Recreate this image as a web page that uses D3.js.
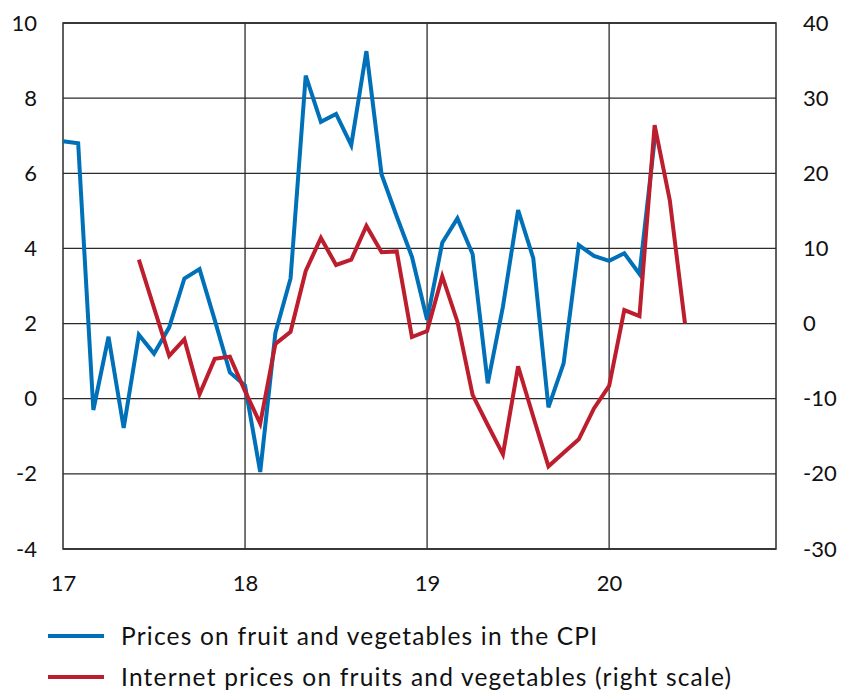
<!DOCTYPE html>
<html>
<head>
<meta charset="utf-8">
<script src="https://cdn.jsdelivr.net/npm/d3@7"></script>
<style>
  html, body { margin: 0; padding: 0; background: #fff; }
  svg { display: block; font-family: Lato, "Open Sans", sans-serif; }
</style>
</head>
<body>
<div id="chart"></div>
<script>
// Monthly series, first point given by its start month
const cpiStart = "2017-01";
const cpiValues = [6.85, 6.8, -0.3, 1.65, -0.78, 1.7, 1.2, 1.9, 3.2, 3.45, 2.1, 0.7,
                   0.35, -1.95, 1.75, 3.2, 8.6, 7.37, 7.58, 6.75, 9.25, 5.97, 4.85, 3.78,
                   2.1, 4.15, 4.8, 3.85, 0.41, 2.45, 5.02, 3.74, -0.23, 0.94, 4.09, 3.8,
                   3.67, 3.87, 3.32, 6.9];

const webStart = "2017-06";
const webValues = [8.5, 2.1, -4.3, -2.1, -9.4, -4.7, -4.4,
                   -9.0, -13.3, -2.7, -1.1, 7.0, 11.4, 7.8, 8.5, 13.0, 9.5, 9.6, -1.8,
                   -1.0, 6.3, 0.25, -9.5, -13.5, -17.4, -5.7, -12.4, -19.0, -17.2, -15.4, -11.3,
                   -8.3, 1.8, 1.0, 26.4, 16.4, 0.0];

const yearTicks = ["2017-01", "2018-01", "2019-01", "2020-01"];
const yearLabels = ["17", "18", "19", "20"];
const axisEnd = "2020-12";
const leftTicks = [-4, -2, 0, 2, 4, 6, 8, 10];
const rightTicks = [-30, -20, -10, 0, 10, 20, 30, 40];

const legendLabels = ["Prices on fruit and vegetables in the CPI",
                      "Internet prices on fruits and vegetables (right scale)"];

const W = 842, H = 690;
const m = { left: 63, right: 776, top: 23, bottom: 549 };
const blue = "#0070b8", red = "#bd1e2e", gridCol = "#2b2b2b";

// month string -> month index from Jan 2017
const base = 2017 * 12;
const monthIdx = s => { const [y, mo] = s.split("-").map(Number); return y * 12 + mo - 1 - base; };

const x = d3.scaleLinear().domain([0, monthIdx(axisEnd)]).range([m.left, m.right]);
const yL = d3.scaleLinear().domain([-4, 10]).range([m.bottom, m.top]);
const yR = d3.scaleLinear().domain([-30, 40]).range([m.bottom, m.top]);

const svg = d3.select("#chart").append("svg")
  .attr("width", W).attr("height", H);

// horizontal grid
svg.append("g").selectAll("line").data(leftTicks).join("line")
  .attr("x1", m.left).attr("x2", m.right)
  .attr("y1", d => yL(d)).attr("y2", d => yL(d))
  .attr("stroke", gridCol).attr("stroke-width", 1.3);

// vertical year lines
svg.append("g").selectAll("line").data(yearTicks.slice(1)).join("line")
  .attr("x1", d => x(monthIdx(d))).attr("x2", d => x(monthIdx(d)))
  .attr("y1", m.top).attr("y2", m.bottom)
  .attr("stroke", gridCol).attr("stroke-width", 1.3);

// frame
svg.append("rect")
  .attr("x", m.left).attr("y", m.top)
  .attr("width", m.right - m.left).attr("height", m.bottom - m.top)
  .attr("fill", "none").attr("stroke", gridCol).attr("stroke-width", 1.5);

// axes (labels only), plain hyphen for negatives
const fmt = d => String(d);
const leftAxis = svg.append("g")
  .attr("transform", `translate(${m.left},0)`)
  .call(d3.axisLeft(yL).tickValues(leftTicks).tickFormat(fmt).tickSize(0).tickPadding(26));
const rightAxis = svg.append("g")
  .attr("transform", `translate(${m.right},0)`)
  .call(d3.axisRight(yR).tickValues(rightTicks).tickFormat(fmt).tickSize(0).tickPadding(27));
const bottomAxis = svg.append("g")
  .attr("transform", `translate(0,${m.bottom})`)
  .call(d3.axisBottom(x).tickValues(yearTicks.map(monthIdx))
    .tickFormat((d, i) => yearLabels[i]).tickSize(0).tickPadding(26));

[leftAxis, rightAxis, bottomAxis].forEach(g => {
  g.select(".domain").remove();
  g.selectAll("text")
    .style("font-family", "Lato, 'Open Sans', sans-serif")
    .style("font-size", "22px")
    .attr("fill", "#111");
});

// series
const line = y => d3.line().x(d => x(d.i)).y(d => y(d.v));
const toPts = (start, vals) => vals.map((v, k) => ({ i: monthIdx(start) + k, v }));

svg.append("path")
  .datum(toPts(cpiStart, cpiValues))
  .attr("d", line(yL))
  .attr("fill", "none").attr("stroke", blue)
  .attr("stroke-width", 4).attr("stroke-linejoin", "miter");

svg.append("path")
  .datum(toPts(webStart, webValues))
  .attr("d", line(yR))
  .attr("fill", "none").attr("stroke", red)
  .attr("stroke-width", 4).attr("stroke-linejoin", "miter");

// legend
const legend = svg.append("g");
[blue, red].forEach((c, i) => {
  const ly = 636 + i * 41;
  legend.append("line")
    .attr("x1", 48).attr("x2", 104).attr("y1", ly).attr("y2", ly)
    .attr("stroke", c).attr("stroke-width", 4);
  legend.append("text")
    .attr("x", 121).attr("y", ly).attr("dy", "0.36em")
    .style("font-size", "24.5px").style("letter-spacing", "1.2px")
    .attr("fill", "#111")
    .text(legendLabels[i]);
});
</script>
</body>
</html>
